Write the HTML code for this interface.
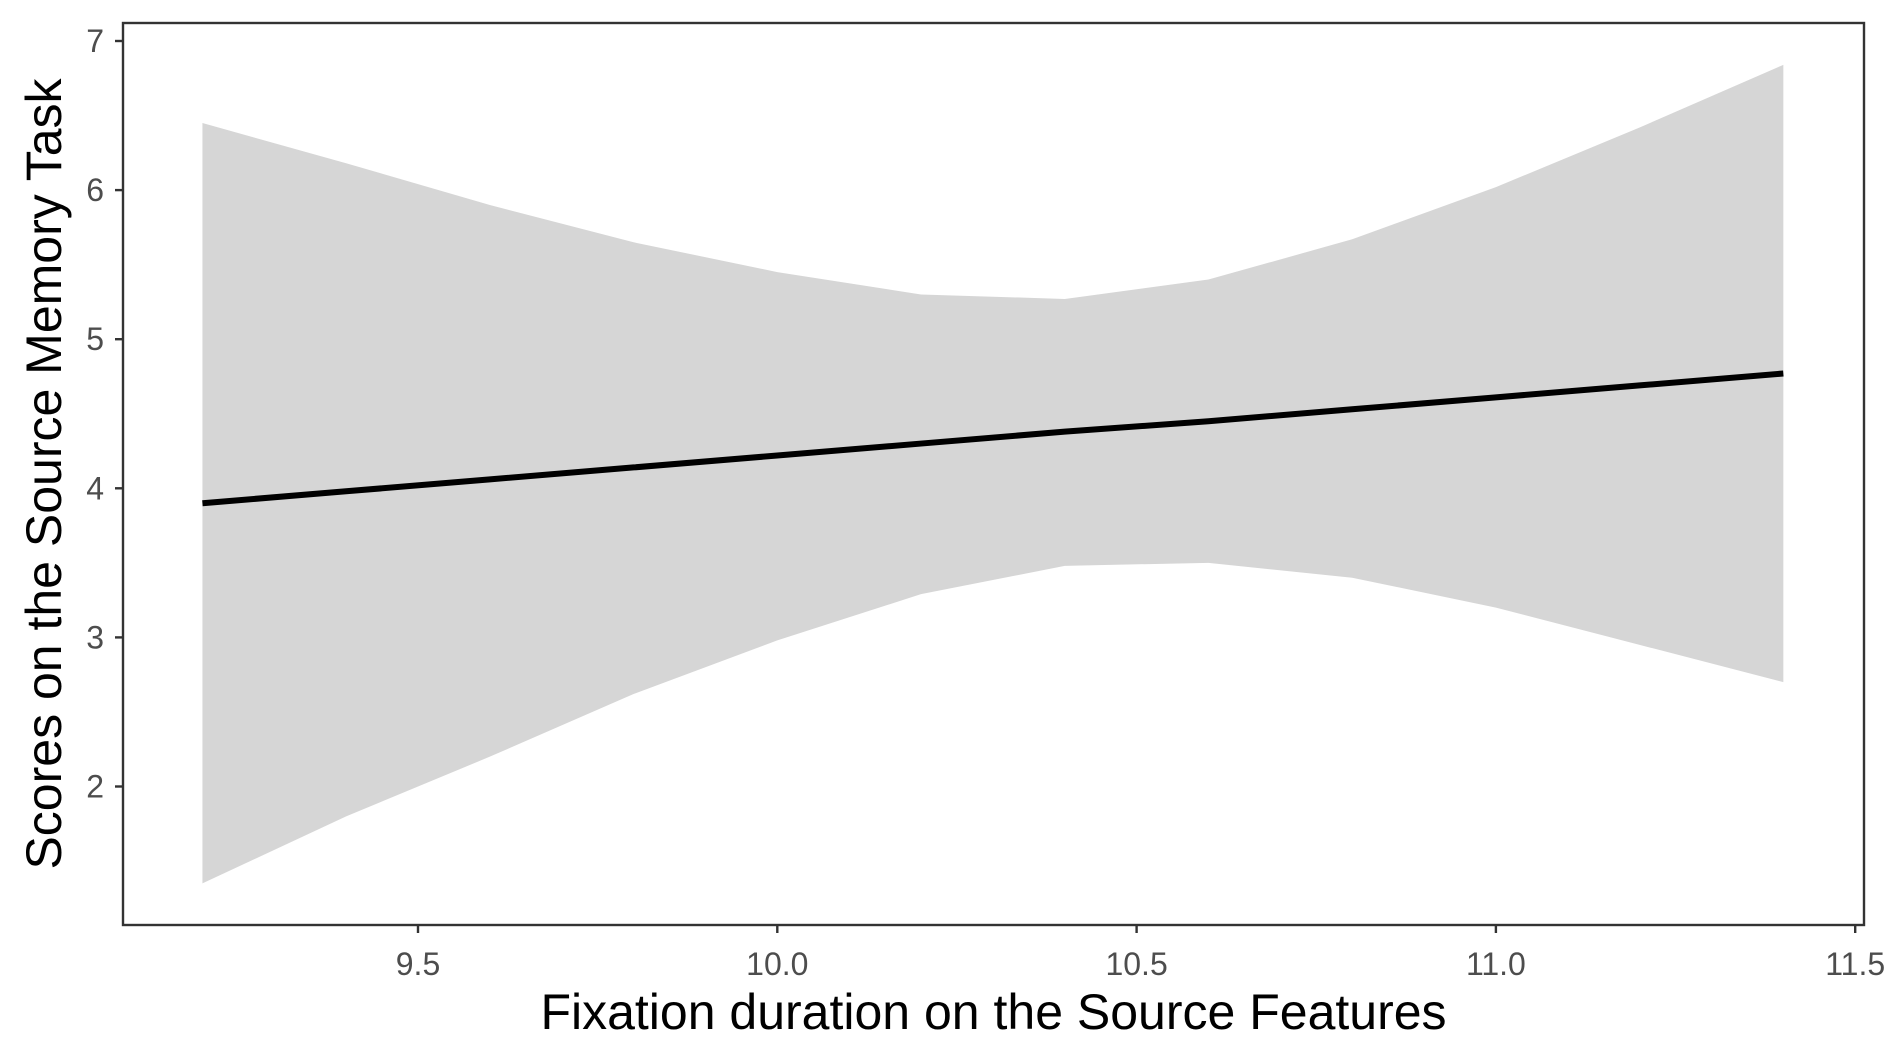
<!DOCTYPE html>
<html><head><meta charset="utf-8"><style>
html,body{margin:0;padding:0;background:#fff;}
svg{display:block;font-family:"Liberation Sans",Arial,sans-serif;}
</style></head><body>
<svg id="chart" width="1889" height="1062">
</svg>
<script>
const xs=[9.2,9.4,9.6,9.8,10.0,10.2,10.4,10.6,10.8,11.0,11.2,11.4];
const fit=[3.9,3.98,4.06,4.14,4.22,4.3,4.38,4.45,4.53,4.61,4.69,4.77];
const upper=[6.45,6.18,5.9,5.65,5.45,5.3,5.27,5.4,5.67,6.02,6.42,6.84];
const lower=[1.35,1.8,2.2,2.62,2.98,3.29,3.48,3.5,3.4,3.2,2.95,2.7];
const xTicks=[9.5,10.0,10.5,11.0,11.5];
const xTickLabels=["9.5","10.0","10.5","11.0","11.5"];
const yTicks=[2,3,4,5,6,7];
const yTickLabels=["2","3","4","5","6","7"];

const NS="http://www.w3.org/2000/svg";
const svg=document.getElementById('chart');
const L=123,R=1864,T=23,B=925;
function sx(v){return 418+(v-9.5)*718.6;}
function sy(v){return 41+(7-v)*149.1;}
function mk(tag,attrs){const e=document.createElementNS(NS,tag);for(const k in attrs)e.setAttribute(k,attrs[k]);svg.appendChild(e);return e;}

let d='M'+xs.map((x,i)=>sx(x)+','+sy(upper[i])).join('L');
for(let i=xs.length-1;i>=0;i--)d+='L'+sx(xs[i])+','+sy(lower[i]);
const rib=mk('path',{d:d+'Z',fill:'#d6d6d6'});



const ln=mk('polyline',{points:xs.map((x,i)=>sx(x)+','+sy(fit[i])).join(' '),fill:'none',stroke:'#000',"stroke-width":6});



const fr=mk('rect',{x:L,y:T,width:R-L,height:B-T,fill:'none',stroke:'#333',"stroke-width":2.4});



xTicks.forEach((v,i)=>{
  const t=mk('line',{x1:sx(v),x2:sx(v),y1:B,y2:B+8,stroke:'#333',"stroke-width":2.4});
  
  
  const l=mk('text',{x:sx(v),y:975,"text-anchor":'middle',"font-size":32,fill:'#4d4d4d'});
  l.textContent=xTickLabels[i];
  
  
});
yTicks.forEach((v,i)=>{
  const t=mk('line',{x1:L-8,x2:L,y1:sy(v),y2:sy(v),stroke:'#333',"stroke-width":2.4});
  
  
  const l=mk('text',{x:104,y:sy(v)+11,"text-anchor":'end',"font-size":32,fill:'#4d4d4d'});
  l.textContent=yTickLabels[i];
  
  
});
const xt=mk('text',{x:(L+R)/2,y:1029,"text-anchor":'middle',"font-size":50,fill:'#000'});
xt.textContent='Fixation duration on the Source Features';


const yt=mk('text',{x:0,y:0,"text-anchor":'middle',"font-size":50,fill:'#000',transform:'translate(61,'+((T+B)/2)+') rotate(-90)'});
yt.textContent='Scores on the Source Memory Task';


</script>
</body></html>
